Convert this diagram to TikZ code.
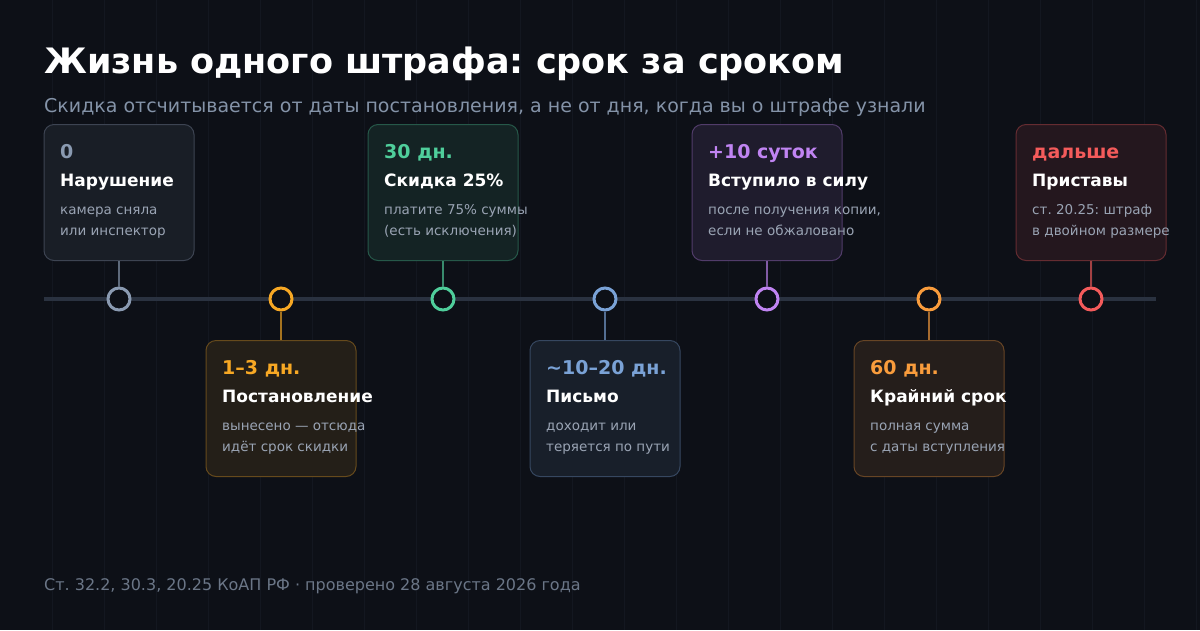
\documentclass[tikz,border=0pt]{standalone}
\usepackage{fontspec}
\setmainfont{DejaVu Sans}
\usetikzlibrary{positioning}
\frenchspacing

\definecolor{bg}{HTML}{0D1017}
\definecolor{stripe}{HTML}{131720}
\definecolor{rail}{HTML}{2A3240}
\definecolor{slate}{HTML}{8A9AB1}
\definecolor{amber}{HTML}{F7A824}
\definecolor{mint}{HTML}{4FCE9B}
\definecolor{sky}{HTML}{7AA2D6}
\definecolor{lilac}{HTML}{C084F2}
\definecolor{tangerine}{HTML}{F99C3C}
\definecolor{coral}{HTML}{F45B5B}
\definecolor{notegray}{HTML}{9AA4B4}
\definecolor{subgray}{HTML}{8493A8}
\definecolor{footgray}{HTML}{6B7687}

\tikzset{
  card/.style={draw=#1!38!bg, fill=#1!10!bg, line width=1pt, rounded corners=10pt,
    minimum width=150pt, minimum height=136pt, inner sep=0pt},
  dot/.style={circle, draw=#1, fill=bg, line width=3pt, minimum size=22pt, inner sep=0pt},
  stem/.style={draw=#1!65!bg, line width=1.5pt},
  words/.style={anchor=base west, inner sep=0pt},
  when/.style={words, text=#1, font=\fontsize{19}{19}\selectfont\bfseries},
  what/.style={words, text=white, font=\fontsize{17}{17}\selectfont\bfseries},
  note/.style={words, text=notegray, font=\fontsize{13.5}{13.5}\selectfont},
}

\begin{document}
\begin{tikzpicture}[x=1pt,y=-1pt]
\useasboundingbox[fill=bg] (0,0) rectangle (1200,630);
\foreach \s in {52,104,...,1196}
  \draw[stripe, line width=1pt] (\s,0) -- (\s,630);

\node[words, text=white, font=\fontsize{35}{35}\selectfont\bfseries] (title) at (44,73)
  {Жизнь одного штрафа: срок за сроком};
\node[words, text=subgray, font=\fontsize{19}{19}\selectfont] (subtitle) at (44,112)
  {Скидка отсчитывается от даты постановления, а не от дня, когда вы о штрафе узнали};

\coordinate (railstart) at (44,299);
\coordinate (railend) at (1156,299);
\draw[rail, line width=4pt] (railstart) -- (railend);

\foreach \i/\cx/\top/\col/\lab/\tit/\na/\nb in {
  1/119/124/slate/{0}/{Нарушение}/{камера сняла}/{или инспектор},
  2/281/340/amber/{1–3 дн.}/{Постановление}/{вынесено — отсюда}/{идёт срок скидки},
  3/443/124/mint/{30 дн.}/{Скидка 25\%}/{платите 75\% суммы}/{(есть исключения)},
  4/605/340/sky/{\textasciitilde10–20 дн.}/{Письмо}/{доходит или}/{теряется по пути},
  5/767/124/lilac/{+10 суток}/{Вступило в силу}/{после получения копии,}/{если не обжаловано},
  6/929/340/tangerine/{60 дн.}/{Крайний срок}/{полная сумма}/{с даты вступления},
  7/1091/124/coral/{дальше}/{Приставы}/{ст. 20.25: штраф}/{в двойном размере}}
{
  \node[card=\col, anchor=north] (c\i) at (\cx,\top) {};
  \node[dot=\col] (d\i) at (\cx,299) {};
  \draw[stem=\col] (c\i) -- (d\i);
  \node[when=\col] (lab\i) at (\cx-59,\top+34) {\lab};
  \node[what] (tit\i) at (\cx-59,\top+62) {\tit};
  \node[note] (na\i) at (\cx-59,\top+90) {\na};
  \node[note] (nb\i) at (\cx-59,\top+111) {\nb};
}

\node[words, text=footgray, font=\fontsize{16}{16}\selectfont] (footer) at (44,590)
  {Ст. 32.2, 30.3, 20.25 КоАП РФ · проверено 28 августа 2026 года};
\end{tikzpicture}
\end{document}
